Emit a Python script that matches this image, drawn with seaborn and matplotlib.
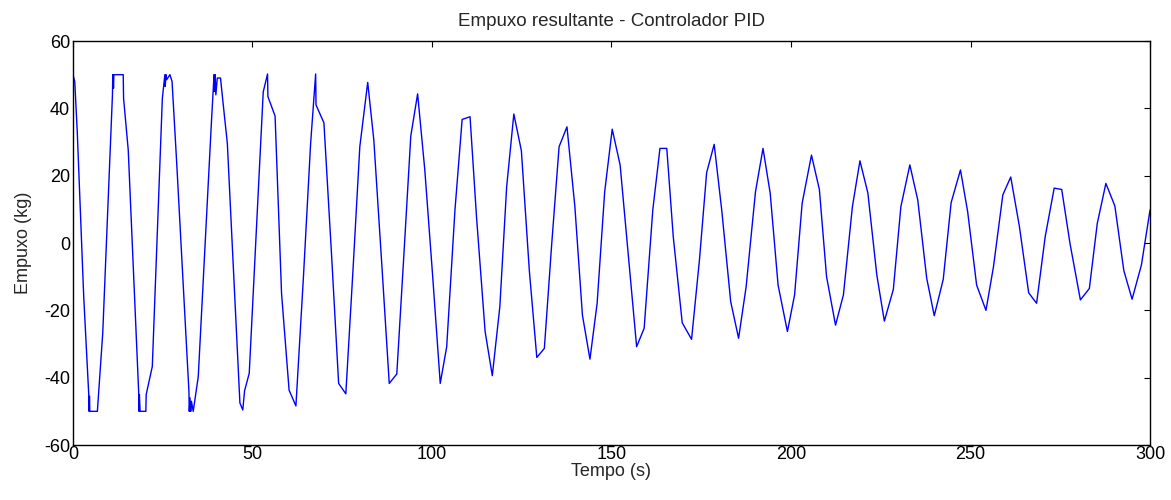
import matplotlib
matplotlib.use("Agg")
import pandas as pd
import matplotlib.pyplot as plt
import seaborn as sns

sns.set_style("white")
plt.rcParams['font.family'] = ['Liberation Sans', 'DejaVu Sans']
plt.rcParams['axes.unicode_minus'] = False

# Thrust values (time in s, thrust in kg)
tempo = [0.0, 0.5, 1.2, 3.0, 4.4, 4.5, 4.6, 4.7, 6.8, 8.3,
         11.0, 11.1, 11.3, 11.4, 11.7, 14.0, 14.1, 15.4,
         18.3, 18.4, 18.5, 18.7, 20.3, 20.4, 22.1,
         24.9, 25.6, 25.7, 25.9, 26.1, 27.0, 27.6, 28.9,
         32.3, 32.4, 32.6, 32.8, 33.0, 33.5, 34.9,
         38.6, 39.3, 39.4, 39.6, 39.8, 40.2, 41.1, 41.8, 43.0,
         46.5, 47.3, 47.8, 49.1, 53.0, 54.2, 54.3, 56.3, 58.1,
         60.2, 62.1, 64.2, 66.2, 67.6, 67.7, 69.9, 72.0,
         74.0, 76.0, 78.0, 79.9, 82.1, 83.8, 86.0,
         88.1, 90.2, 92.2, 94.1, 96.0, 98.0, 100.2,
         102.3, 104.1, 106.4, 108.4, 110.6, 112.4, 114.8,
         116.8, 118.9, 120.8, 122.8, 124.9, 127.1, 129.2,
         131.3, 133.3, 135.4, 137.6, 139.8, 141.9, 144.0,
         146.0, 148.1, 150.2, 152.4, 154.7, 157.0, 159.1,
         161.5, 163.5, 165.4, 167.2, 169.7, 172.3, 174.5,
         176.5, 178.6, 180.7, 183.2, 185.4, 187.5, 190.1,
         192.2, 194.2, 196.4, 199.0, 201.0, 203.1, 205.7,
         207.9, 209.9, 212.4, 214.6, 217.1, 219.2, 221.4,
         223.9, 226.0, 228.5, 230.6, 233.1, 235.3, 237.8,
         239.9, 242.4, 244.6, 247.2, 249.2, 251.7, 254.3,
         256.4, 259.0, 261.2, 263.6, 266.2, 268.4, 270.8,
         273.3, 275.4, 277.7, 280.6, 283.1, 285.3, 287.7,
         290.2, 292.7, 295.0, 297.6, 300.0]
empuxo = [50.0, 48.0, 33.0, -16.0, -45.0, -50.0, -45.5, -50.0, -50.0, -26.7,
          44.0, 50.0, 46.0, 50.0, 50.0, 50.0, 43.0, 27.6,
          -44.2, -50.0, -45.0, -50.0, -50.0, -45.0, -36.7,
          43.0, 50.0, 46.5, 50.0, 48.5, 50.0, 48.0, 23.7,
          -44.0, -50.0, -46.0, -50.0, -47.0, -50.0, -39.7,
          36.5, 50.0, 45.0, 50.0, 44.0, 49.0, 49.0, 41.7, 29.6,
          -47.5, -49.6, -43.9, -38.7, 44.9, 50.2, 43.5, 37.7, -15.0,
          -43.7, -48.4, -10.0, 29.6, 50.2, 41.0, 35.7, -3.0,
          -41.7, -44.8, -8.0, 28.6, 47.7, 30.6, -6.0,
          -41.7, -38.9, -3.0, 31.8, 44.3, 21.7, -10.0,
          -41.7, -30.8, 9.8, 36.7, 37.5, 7.8, -26.3,
          -39.4, -18.9, 16.7, 38.3, 27.4, -8.0, -34.0,
          -31.3, -1.0, 28.6, 34.5, 10.8, -21.4, -34.5,
          -17.9, 15.2, 33.8, 23.2, -3.8, -30.8, -25.3,
          9.8, 28.1, 28.1, 1.9, -23.7, -28.6, -5.0,
          20.9, 29.3, 9.8, -17.4, -28.3, -13.0, 15.2,
          28.1, 14.8, -12.5, -26.3, -15.4, 11.8, 26.1,
          15.9, -10.0, -24.4, -15.4, 10.8, 24.4, 14.9,
          -9.5, -23.2, -13.8, 10.8, 23.2, 12.8, -10.5,
          -21.6, -10.8, 12.0, 21.7, 9.3, -12.5, -20.0,
          -7.0, 14.3, 19.6, 5.0, -14.8, -17.9, 1.9,
          16.3, 15.9, -0.1, -16.9, -13.5, 5.8, 17.7,
          11.0, -8.2, -16.7, -6.5, 9.8]

x_ticks = [0, 50, 100, 150, 200, 250, 300]
y_ticks = [-60, -40, -20, 0, 20, 40, 60]

df = pd.DataFrame({"tempo": tempo, "empuxo": empuxo})

fig = plt.figure(figsize=(11.71, 5.0), dpi=100)
ax = fig.add_axes([0.0623, 0.11, 0.9198, 0.808])

sns.lineplot(data=df, x="tempo", y="empuxo", sort=False, estimator=None,
             color="#0000ff", linewidth=1.0, ax=ax)

ax.set_xlim(0, 300)
ax.set_ylim(-60, 60)
ax.set_xticks(x_ticks)
ax.set_yticks(y_ticks)
ax.tick_params(direction="in", length=4, width=0.8, top=True, right=True,
               labelsize=13, colors="black", pad=2)
ax.tick_params(axis="x", pad=1)
for s in ax.spines.values():
    s.set_color("black")
    s.set_linewidth(1.0)

ax.set_title("Empuxo resultante - Controlador PID", fontsize=13.5, pad=11)
ax.set_xlabel("Tempo (s)", fontsize=13, labelpad=0)
ax.set_ylabel("Empuxo (kg)", fontsize=13, labelpad=9)

fig.savefig("out.png", dpi=100)
